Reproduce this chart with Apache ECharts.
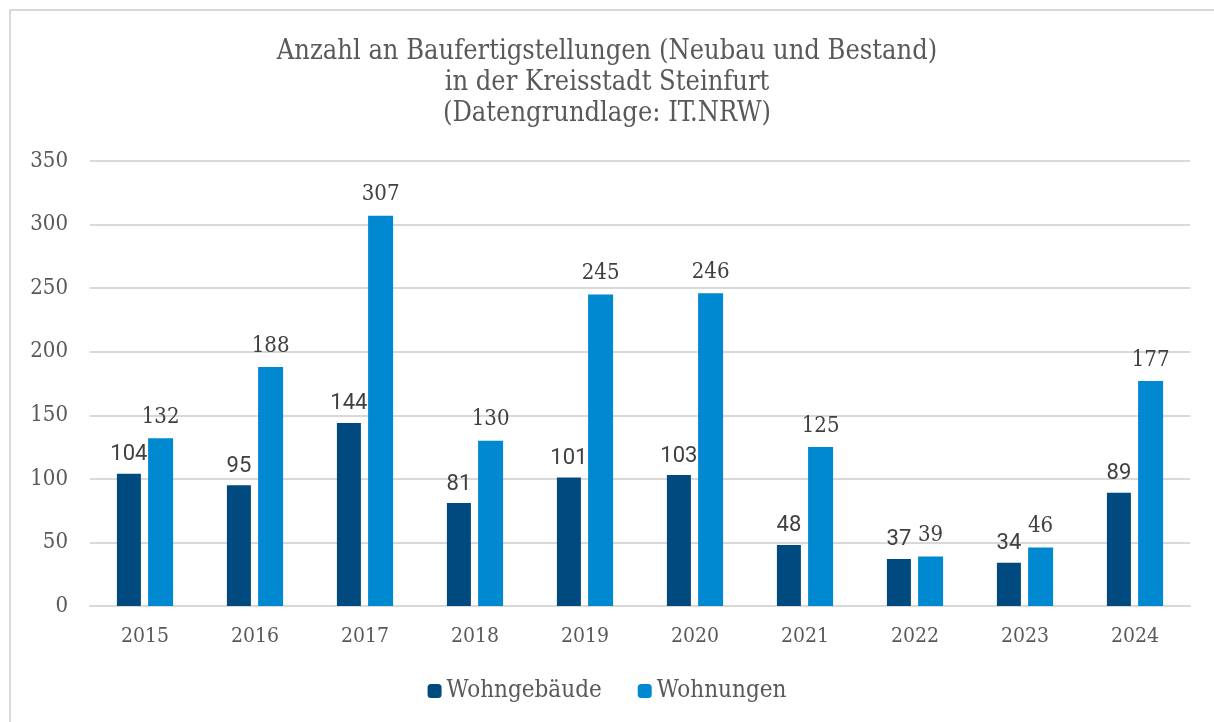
<!DOCTYPE html>
<html>
<head>
<meta charset="utf-8">
<script src="https://cdn.jsdelivr.net/npm/echarts@6/dist/echarts.min.js"></script>
<style>
  html, body { margin: 0; padding: 0; background: #fff; overflow: hidden; }
  #frame { position: absolute; left: 9px; top: 9px; width: 1220px; height: 730px;
           border-left: 2px solid #d9d9d9; border-top: 2px solid #d9d9d9; }
  #main { position: absolute; left: 0; top: 0; width: 1214px; height: 722px; }
</style>
</head>
<body>
<div id="frame"></div>
<div id="main"></div>
<script>
// Jahre
var years = ['2015', '2016', '2017', '2018', '2019', '2020', '2021', '2022', '2023', '2024'];
// Wohngebäude
var gebaeude = [104, 95, 144, 81, 101, 103, 48, 37, 34, 89];
// Wohnungen
var wohnungen = [132, 188, 307, 130, 245, 246, 125, 39, 46, 177];

var serif = '"DejaVu Serif Condensed", "DejaVu Serif", serif';
var sans = 'Roboto, "Noto Sans", sans-serif';

var myChart = echarts.init(document.getElementById('main'));
myChart.setOption({
    animation: false,
    title: {
        text: 'Anzahl an Baufertigstellungen (Neubau und Bestand)\nin der Kreisstadt Steinfurt\n(Datengrundlage: IT.NRW)',
        left: 'center',
        top: 31,
        textStyle: { fontFamily: serif, fontSize: 27, fontWeight: 'normal', color: '#595959', lineHeight: 31 }
    },
    legend: {
        bottom: 14,
        left: 'center',
        itemWidth: 14,
        itemHeight: 14,
        itemGap: 36,
        textStyle: { fontFamily: serif, fontSize: 24, color: '#595959' },
        data: ['Wohngebäude', 'Wohnungen']
    },
    grid: { left: 90, right: 24, top: 161, bottom: 116 },
    xAxis: {
        type: 'category',
        data: years,
        axisLine: { lineStyle: { color: '#d9d9d9', width: 2 } },
        axisTick: { show: false },
        axisLabel: { fontFamily: serif, fontSize: 21, color: '#595959', margin: 20 }
    },
    yAxis: {
        type: 'value',
        min: 0,
        max: 350,
        interval: 50,
        axisLine: { show: false },
        axisTick: { show: false },
        axisLabel: { fontFamily: serif, fontSize: 22, color: '#595959', margin: 22 },
        splitLine: { lineStyle: { color: '#d9d9d9', width: 2 } }
    },
    series: [
        {
            name: 'Wohngebäude',
            type: 'bar',
            data: gebaeude,
            barWidth: 24,
            barGap: '30%',
            itemStyle: { color: '#004A80' },
            label: { show: true, position: 'top', distance: 8, fontFamily: sans, fontSize: 22, color: '#404040' }
        },
        {
            name: 'Wohnungen',
            type: 'bar',
            data: wohnungen,
            barWidth: 25,
            itemStyle: { color: '#0088D1' },
            label: { show: true, position: 'top', distance: 10, fontFamily: serif, fontSize: 22, color: '#404040' }
        }
    ]
});
</script>
</body>
</html>
